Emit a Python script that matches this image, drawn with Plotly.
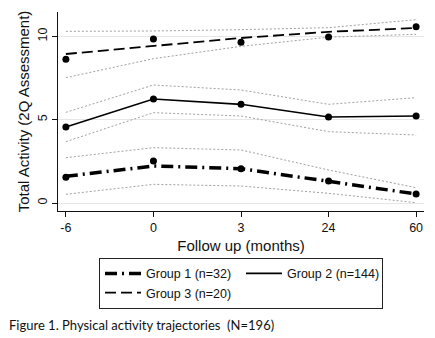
import plotly.graph_objects as go

months = ["-6", "0", "3", "24", "60"]
y_ticks = [0, 5, 10]

g1_fit = [1.60, 2.22, 2.06, 1.32, 0.54]
g1_obs = [1.54, 2.52, 2.06, 1.32, 0.54]
g1_hi = [2.72, 3.32, 3.18, 1.98, 0.92]
g1_lo = [0.52, 1.12, 1.02, 0.58, 0.02]

g2_fit = [4.56, 6.24, 5.92, 5.16, 5.22]
g2_obs = [4.56, 6.24, 5.92, 5.16, 5.22]
g2_hi = [5.44, 7.08, 6.78, 5.92, 6.32]
g2_lo = [3.68, 5.42, 5.22, 4.28, 4.08]

g3_fit = [8.94, 9.44, 9.90, 10.27, 10.50]
g3_obs = [8.62, 9.84, 9.64, 9.96, 10.58]
g3_hi = [10.30, 10.32, 10.40, 10.52, 11.00]
g3_lo = [7.52, 8.66, 9.40, 9.95, 10.12]

names = ["Group 1 (n=32)", "Group 2 (n=144)", "Group 3 (n=20)"]
fits = [g1_fit, g2_fit, g3_fit]
obs = [g1_obs, g2_obs, g3_obs]
his = [g1_hi, g2_hi, g3_hi]
los = [g1_lo, g2_lo, g3_lo]
styles = [dict(width=3.5, dash="12px,5px,2px,5px"),
          dict(width=1.6, dash="solid"),
          dict(width=1.8, dash="11px,5px")]

FONT = "Liberation Sans, Arial, sans-serif"
fig = go.Figure()

for hi, lo in zip(his, los):
    for band in (hi, lo):
        fig.add_trace(go.Scatter(x=months, y=band, mode="lines", showlegend=False,
                                 line=dict(color="#a0a0a0", width=1, dash="2px,2px"),
                                 hoverinfo="skip"))

for name, f, st in zip(names, fits, styles):
    fig.add_trace(go.Scatter(x=months, y=f, mode="lines", name=name,
                             line=dict(color="black", **st)))

for o in obs:
    fig.add_trace(go.Scatter(x=months, y=o, mode="markers", showlegend=False,
                             marker=dict(color="black", size=7)))

fig.update_layout(
    width=435, height=338,
    margin=dict(l=58, r=11, t=12, b=127),
    paper_bgcolor="white", plot_bgcolor="white",
    font=dict(family=FONT, size=12.5, color="#111"),
    legend=dict(orientation="h", x=0.5, xanchor="center", y=-0.235, yanchor="top",
                bordercolor="#222", borderwidth=1, entrywidth=90,
                font=dict(family=FONT, size=12.5), tracegroupgap=0, itemwidth=36),
    xaxis=dict(type="category", range=[-0.09, 4.09], showgrid=False,
               showline=True, linecolor="#111", linewidth=1.3,
               ticks="outside", ticklen=5, tickcolor="#111",
               title=dict(text="Follow up (months)", standoff=6),
               tickfont=dict(size=12.5)),
    yaxis=dict(range=[-0.48, 11.46], tickvals=y_ticks, tickangle=-90,
               showgrid=True, gridcolor="#e6e6e6", gridwidth=1, zeroline=False,
               showline=True, linecolor="#111", linewidth=1.3,
               ticks="outside", ticklen=5, tickcolor="#111",
               title=dict(text="Total Activity (2Q Assessment)", standoff=2),
               tickfont=dict(size=12.5)),
    annotations=[dict(text="Figure 1. Physical activity trajectories  (N=196)",
                      xref="paper", yref="paper", x=-51/366, y=-(325-211)/199,
                      xanchor="left", yanchor="middle", showarrow=False,
                      font=dict(family="Lato, Open Sans, sans-serif", size=13, color="#111"))],
)

fig.write_html("out.html")
